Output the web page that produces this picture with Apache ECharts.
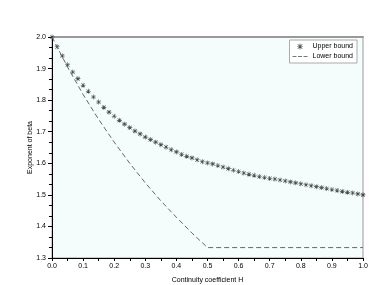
<!DOCTYPE html>
<html>
<head>
<meta charset="utf-8">
<script src="https://cdn.jsdelivr.net/npm/echarts@6/dist/echarts.min.js"></script>
<style>html,body{margin:0;padding:0;background:#fff}#c{width:369px;height:285px}</style>
</head>
<body>
<div id="c"></div>
<script>
// Upper bound: stars at H = k/60, k = 0..60
const upperH = [
  0.0000,0.0167,0.0333,0.0500,0.0667,0.0833,0.1000,0.1167,0.1333,0.1500,
  0.1667,0.1833,0.2000,0.2167,0.2333,0.2500,0.2667,0.2833,0.3000,0.3167,
  0.3333,0.3500,0.3667,0.3833,0.4000,0.4167,0.4333,0.4500,0.4667,0.4833,
  0.5000,0.5167,0.5333,0.5500,0.5667,0.5833,0.6000,0.6167,0.6333,0.6500,
  0.6667,0.6833,0.7000,0.7167,0.7333,0.7500,0.7667,0.7833,0.8000,0.8167,
  0.8333,0.8500,0.8667,0.8833,0.9000,0.9167,0.9333,0.9500,0.9667,0.9833,1.0000
];
const upperVal = [
  2.000,1.969,1.940,1.912,1.889,1.868,1.847,1.828,1.810,1.794,
  1.777,1.762,1.749,1.736,1.724,1.713,1.702,1.693,1.683,1.675,
  1.667,1.659,1.651,1.643,1.636,1.628,1.622,1.617,1.611,1.605,
  1.601,1.598,1.593,1.588,1.583,1.578,1.574,1.569,1.565,1.562,
  1.558,1.555,1.552,1.550,1.547,1.544,1.541,1.538,1.535,1.532,
  1.529,1.526,1.523,1.520,1.517,1.514,1.511,1.508,1.506,1.503,1.500
];
// Lower bound (dashed line)
const lowerH = [0.00,0.05,0.10,0.15,0.20,0.25,0.30,0.35,0.40,0.45,0.50,1.00];
const lowerVal = [2.000,1.905,1.818,1.739,1.667,1.600,1.538,1.481,1.429,1.379,1.333,1.333];

const seriesNames = ['Upper bound','Lower bound'];
const xName = 'Continuity coefficient H';
const yName = 'Exponent of beta';

const asterisk = 'path://M4.4 0H5.6V10H4.4Z M0 4.4H10V5.6H0Z M0.8 1.6L1.6 0.8L9.2 8.4L8.4 9.2Z M8.4 0.8L9.2 1.6L1.6 9.2L0.8 8.4Z';
const dashIcon = 'path://M0 0H4V1H0Z M5.5 0H9.5V1H5.5Z M11 0H15V1H11Z';

const chart = echarts.init(document.getElementById('c'), null, {renderer:'canvas'});
const font = 'Liberation Sans';
chart.setOption({
  animation:false,
  backgroundColor:'#fff',
  textStyle:{fontFamily:font},
  grid:{left:52,right:6,top:37,bottom:27,containLabel:false,outerBoundsMode:'none',
        show:true,backgroundColor:'#f4fcfc',borderColor:'#999',borderWidth:1},
  legend:{
    data:[
      {name:seriesNames[0], icon:asterisk, itemStyle:{color:'#222'}},
      {name:seriesNames[1], icon:dashIcon, itemStyle:{color:'#777'}}
    ],
    orient:'vertical', right:12, top:40,
    backgroundColor:'#fff', borderColor:'#aaa', borderWidth:1,
    padding:[3,4,3,3], itemGap:3, itemWidth:15, itemHeight:6,
    textStyle:{fontSize:7,color:'#000',fontFamily:font}
  },
  xAxis:[{
    type:'value', min:0, max:1, interval:0.1,
    name:xName, nameLocation:'middle', nameGap:19, nameMoveOverlap:false,
    nameTextStyle:{fontSize:7,color:'#000'},
    axisLine:{show:true,lineStyle:{color:'#000',width:1}},
    axisTick:{show:true,length:3,lineStyle:{color:'#000'}},
    minorTick:{show:true,splitNumber:2,length:3,lineStyle:{color:'#000'}},
    axisLabel:{fontSize:7,color:'#000',margin:5,formatter:v=>v.toFixed(1)},
    splitLine:{show:false}
  },{
    type:'value', position:'top', min:0, max:1,
    axisLine:{show:true,lineStyle:{color:'#999',width:2}},
    axisTick:{show:false}, axisLabel:{show:false}, splitLine:{show:false}
  }],
  yAxis:{
    type:'value', min:1.3, max:2.0, interval:0.1,
    name:yName, nameLocation:'middle', nameGap:18, nameRotate:90, nameMoveOverlap:false,
    nameTextStyle:{fontSize:7,color:'#000'},
    axisLine:{show:true,lineStyle:{color:'#000',width:1}},
    axisTick:{show:true,length:4,lineStyle:{color:'#000'}},
    minorTick:{show:true,splitNumber:3,length:3,lineStyle:{color:'#000'}},
    axisLabel:{fontSize:7,color:'#000',margin:6,formatter:v=>v.toFixed(1)},
    splitLine:{show:false}
  },
  series:[
    {
      name:seriesNames[0], type:'scatter', symbol:asterisk, symbolSize:5,
      itemStyle:{color:'#222'},
      data:upperH.map((h,i)=>[h,upperVal[i]])
    },
    {
      name:seriesNames[1], type:'line', showSymbol:false, symbol:'none',
      lineStyle:{color:'#666',width:1,type:[5,3]},
      itemStyle:{color:'#666'},
      data:lowerH.map((h,i)=>[h,lowerVal[i]])
    }
  ]
});
</script>
</body>
</html>
